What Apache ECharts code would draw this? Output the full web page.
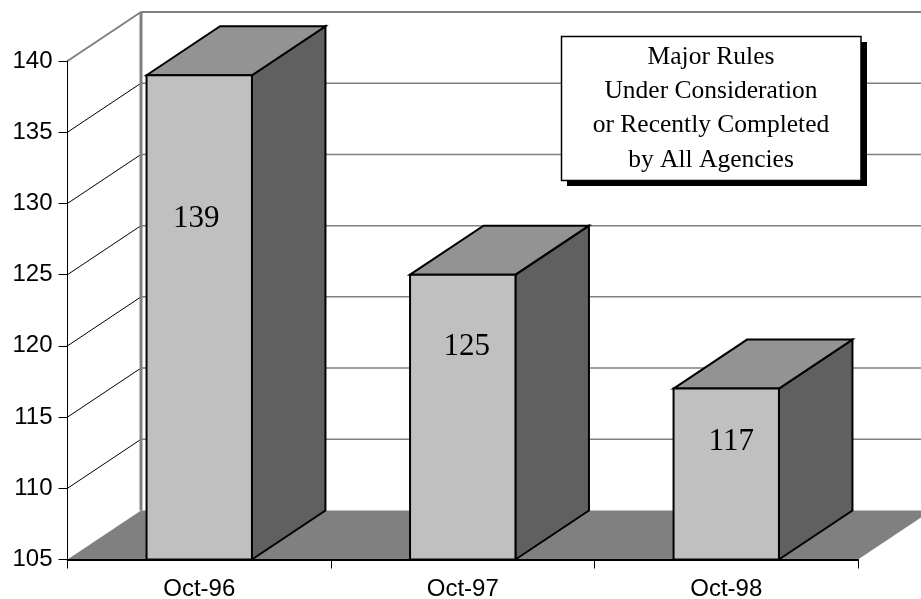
<!DOCTYPE html>
<html>
<head>
<meta charset="utf-8">
<style>
  html, body { margin: 0; padding: 0; background: #fff; }
  #chart { width: 921px; height: 599px; }
</style>
<script src="https://cdn.jsdelivr.net/npm/echarts@6/dist/echarts.min.js"></script>
</head>
<body>
<div id="chart"></div>
<script>
const categories = ["Oct-96", "Oct-97", "Oct-98"];
const ruleCounts = [139, 125, 117];
const yTicks = [105, 110, 115, 120, 125, 130, 135, 140];
const noteLines = ["Major Rules", "Under Consideration", "or Recently Completed", "by All Agencies"];

// depth of the fake 3d box, px
const DX = 73.5;
const DY = 49;
// the value labels were placed by hand in the original
const labelShift = [[-3, -99], [4, -70], [5, -32]];

var chart = echarts.init(document.getElementById("chart"));

function renderFloor(params, api) {
  var g = params.coordSys;
  var l = g.x, r = g.x + g.width, b = g.y + g.height;
  return {
    type: "polygon",
    shape: { points: [[l, b], [l + DX, b - DY], [r + DX, b - DY], [r, b]] },
    style: { fill: "#808080" },
  };
}

function renderWallLine(params, api) {
  var g = params.coordSys;
  var y = api.coord([0, api.value(1)])[1];
  var l = g.x, r = g.x + g.width;
  var isTop = api.value(1) === yTicks[yTicks.length - 1];
  var isBase = api.value(1) === yTicks[0];
  var children = [];
  if (!isBase) {
    children.push({
      type: "line",
      shape: { x1: l, y1: y, x2: l + DX, y2: y - DY },
      style: { stroke: isTop ? "#808080" : "#000", lineWidth: isTop ? 2 : 1 },
    });
    children.push({
      type: "line",
      shape: { x1: l + DX, y1: y - DY, x2: r + DX, y2: y - DY },
      style: { stroke: "#808080", lineWidth: isTop ? 2 : 1.5 },
    });
  }
  if (isTop) {
    children.push({
      type: "line",
      shape: { x1: l + DX, y1: y - DY, x2: l + DX, y2: g.y + g.height - DY },
      style: { stroke: "#808080", lineWidth: 3 },
    });
  }
  return { type: "group", children: children };
}

function renderBar(params, api) {
  var i = api.value(0);
  var top = api.coord([i, api.value(1)]);
  var base = api.coord([i, yTicks[0]]);
  var w = api.size([1, 0])[0] * 0.4;
  var x0 = top[0] - w / 2, x1 = top[0] + w / 2;
  var edge = { stroke: "#000", lineWidth: 2, lineJoin: "miter" };
  var shift = labelShift[i];
  return {
    type: "group",
    children: [
      {
        type: "polygon",
        shape: { points: [[x1, top[1]], [x1 + DX, top[1] - DY], [x1 + DX, base[1] - DY], [x1, base[1]]] },
        style: Object.assign({ fill: "#606060" }, edge),
      },
      {
        type: "polygon",
        shape: { points: [[x0, top[1]], [x0 + DX, top[1] - DY], [x1 + DX, top[1] - DY], [x1, top[1]]] },
        style: Object.assign({ fill: "#939393" }, edge),
      },
      {
        type: "rect",
        shape: { x: x0, y: top[1], width: w, height: base[1] - top[1] },
        style: Object.assign({ fill: "#c0c0c0" }, edge),
      },
      {
        type: "text",
        style: {
          x: top[0] + shift[0],
          y: (top[1] + base[1]) / 2 + shift[1],
          text: String(api.value(1)),
          font: '31px "Liberation Serif"',
          fill: "#000",
          textAlign: "center",
          textVerticalAlign: "middle",
        },
      },
    ],
  };
}

chart.setOption({
  animation: false,
  grid: { left: 67.5, right: 63, top: 61, bottom: 39.5, outerBoundsMode: "none" },
  xAxis: {
    type: "category",
    data: categories,
    z: 5,
    axisLine: { lineStyle: { color: "#000", width: 2 } },
    axisTick: { show: true, length: 9, lineStyle: { color: "#000", width: 1 } },
    axisLabel: { color: "#000", fontFamily: "Liberation Sans", fontSize: 24, margin: 18 },
  },
  yAxis: {
    type: "value",
    min: 105,
    max: 140,
    interval: 5,
    z: 5,
    splitLine: { show: false },
    axisLine: { show: true, lineStyle: { color: "#000", width: 1 } },
    axisTick: { show: true, length: 9, lineStyle: { color: "#000", width: 1 } },
    axisLabel: { color: "#000", fontFamily: "Liberation Sans", fontSize: 24, margin: 15 },
  },
  series: [
    { type: "custom", z: 1, silent: true, clip: false, renderItem: renderFloor, data: [[0, yTicks[0]]] },
    {
      type: "custom",
      z: 2,
      silent: true,
      clip: false,
      renderItem: renderWallLine,
      data: yTicks.map(function (v) { return [0, v]; }),
    },
    {
      type: "custom",
      z: 3,
      silent: true,
      clip: false,
      renderItem: renderBar,
      data: ruleCounts.map(function (v, i) { return [i, v]; }),
    },
  ],
  graphic: [
    { type: "rect", z: 10, shape: { x: 567, y: 42, width: 300, height: 144 }, style: { fill: "#000" } },
    {
      type: "rect",
      z: 11,
      shape: { x: 561.5, y: 36.5, width: 299.5, height: 144 },
      style: { fill: "#fff", stroke: "#000", lineWidth: 1.5 },
    },
    {
      type: "text",
      z: 12,
      style: {
        x: 711,
        y: 108.5,
        text: noteLines.join("\n"),
        font: '25.5px "Liberation Serif"',
        lineHeight: 34.3,
        fill: "#000",
        textAlign: "center",
        textVerticalAlign: "middle",
      },
    },
  ],
});
</script>
</body>
</html>
